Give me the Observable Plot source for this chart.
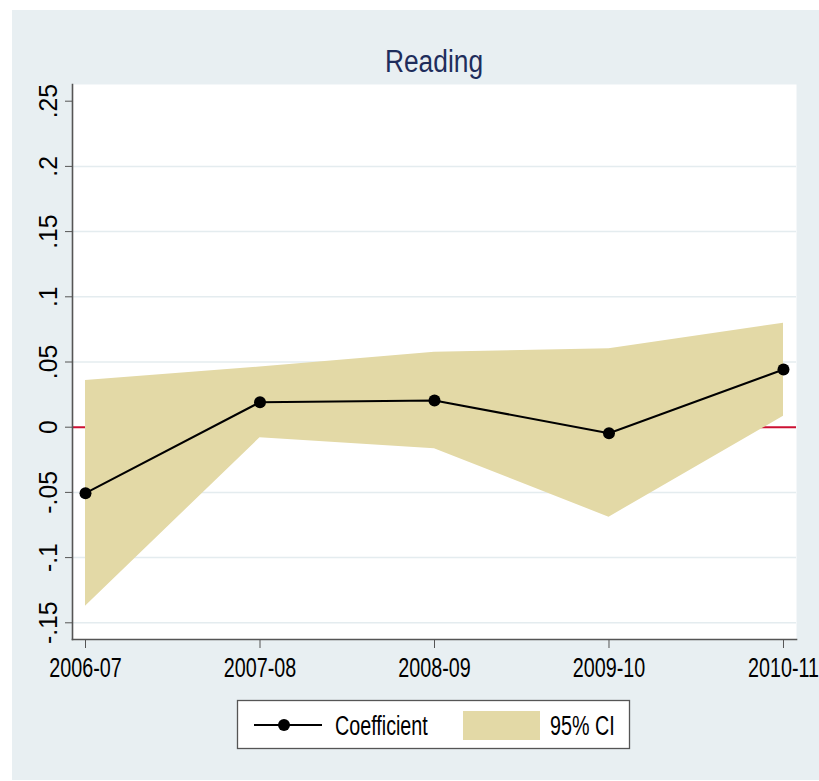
<!DOCTYPE html>
<html>
<head>
<meta charset="utf-8">
<script src="https://cdn.jsdelivr.net/npm/d3@7"></script>
<script src="https://cdn.jsdelivr.net/npm/@observablehq/plot@0.6"></script>
<style>
  html, body { margin: 0; padding: 0; background: #ffffff; }
  #wrap { position: relative; width: 819px; height: 781px; overflow: hidden; }
  #panel { position: absolute; left: 12px; top: 10px; width: 807px; height: 770px; background: #e8eff2; }
  #chart { position: absolute; left: 0; top: 0; }
  #legend { position: absolute; left: 0; top: 0; }
</style>
</head>
<body>
<div id="wrap">
  <div id="panel"></div>
  <div id="chart"></div>
  <div id="legend"></div>
</div>
<script>
// ---- data ----
const years = ["2006-07", "2007-08", "2008-09", "2009-10", "2010-11"];
const coef = [-0.0506, 0.0192, 0.0205, -0.0046, 0.0442];
const ciLow = [-0.1373, -0.0081, -0.0166, -0.069, 0.0084];
const ciHigh = [0.0358, 0.0462, 0.0575, 0.0601, 0.0798];
const yTicks = [-0.15, -0.1, -0.05, 0, 0.05, 0.1, 0.15, 0.2, 0.25];
const yTickLabels = ["-.15", "-.1", "-.05", "0", ".05", ".1", ".15", ".2", ".25"];
const legendLabels = ["Coefficient", "95% CI"];
const titleText = "Reading";

const FONT = '"Liberation Sans Narrow", "Arial Narrow", "Liberation Sans", Arial, sans-serif';
const data = years.map((y, i) => ({i, year: y, coef: coef[i], lo: ciLow[i], hi: ciHigh[i]}));
const xIdx = years.map((_, i) => i);
const gridTicks = yTicks.filter(t => t !== 0 && t !== yTicks[yTicks.length - 1]);

// condense a text element along its baseline using textLength
function condense(t, s) {
  const len = t.getComputedTextLength();
  if (len > 0) {
    t.setAttribute("textLength", (len * s).toFixed(2));
    t.setAttribute("lengthAdjust", "spacingAndGlyphs");
  }
}

const W = 819, H = 781;
const plot = Plot.plot({
  width: W,
  height: H,
  marginLeft: 72,
  marginRight: 23,
  marginTop: 84,
  marginBottom: H - 639,
  style: {background: "transparent", fontFamily: FONT, fontSize: "26px", color: "#000", overflow: "visible"},
  x: {type: "linear", domain: [-0.0745, 4.0745]},
  y: {domain: [-0.1628, 0.2628]},
  marks: [
    Plot.frame({fill: "white", stroke: "none"}),
    Plot.gridY(gridTicks, {stroke: "#e4ecef", strokeOpacity: 1, strokeWidth: 1.5}),
    Plot.ruleY([0], {stroke: "#cc1133", strokeWidth: 2}),
    Plot.areaY(data, {x: "i", y1: "lo", y2: "hi", fill: "#e3d9a6", fillOpacity: 1}),
    Plot.line(data, {x: "i", y: "coef", stroke: "#000", strokeWidth: 2}),
    Plot.dot(data, {x: "i", y: "coef", r: 6, fill: "#000", stroke: "none"}),
    Plot.axisX({ticks: xIdx, tickFormat: i => years[i], tickSize: 9, tickPadding: 9, stroke: "#555", fill: "#000", label: null, fontSize: 27}),
    Plot.axisY({ticks: yTicks, tickFormat: () => "", tickSize: 7, stroke: "#555", label: null}),
    Plot.text(yTicks, {y: d => d, text: (d, i) => yTickLabels[i], frameAnchor: "left", dx: -24, rotate: -90,
      textAnchor: "middle", lineAnchor: "middle", fill: "#000", fontSize: 26}),
    Plot.frame({anchor: "left", stroke: "#555", strokeWidth: 1.6}),
    Plot.frame({anchor: "bottom", stroke: "#555", strokeWidth: 1.6})
  ]
});
document.getElementById("chart").appendChild(plot);

plot.querySelectorAll("text").forEach(t => {
  const g = t.closest("g[aria-label]");
  const lab = g ? g.getAttribute("aria-label") : "";
  if (lab && lab.includes("x-axis")) condense(t, 0.73);
  else if (lab === "text") condense(t, 0.95);
});

// ---- title & legend ----
const lg = d3.select("#legend").append("svg").attr("width", W).attr("height", H)
  .style("font-family", FONT).style("overflow", "visible");
const tt = lg.append("text").attr("x", 434).attr("y", 72).attr("text-anchor", "middle")
  .attr("font-size", 31).attr("fill", "#1e2d5c").text(titleText);
condense(tt.node(), 0.85);
const l1 = lg.append("text").attr("x", 335).attr("y", 735).attr("font-size", 27).text(legendLabels[0]);
lg.insert("rect", "text").attr("x", 237.5).attr("y", 700.5).attr("width", 392).attr("height", 48)
  .attr("fill", "white").attr("stroke", "#555").attr("stroke-width", 1.3);
lg.append("line").attr("x1", 254).attr("x2", 322).attr("y1", 725).attr("y2", 725)
  .attr("stroke", "#000").attr("stroke-width", 2);
lg.append("circle").attr("cx", 284).attr("cy", 725).attr("r", 6).attr("fill", "#000");
lg.append("rect").attr("x", 463).attr("y", 711).attr("width", 77).attr("height", 29).attr("fill", "#e3d9a6");
const l2 = lg.append("text").attr("x", 550).attr("y", 735).attr("font-size", 27).text(legendLabels[1]);
condense(l1.node(), 0.73);
condense(l2.node(), 0.73);
</script>
</body>
</html>
